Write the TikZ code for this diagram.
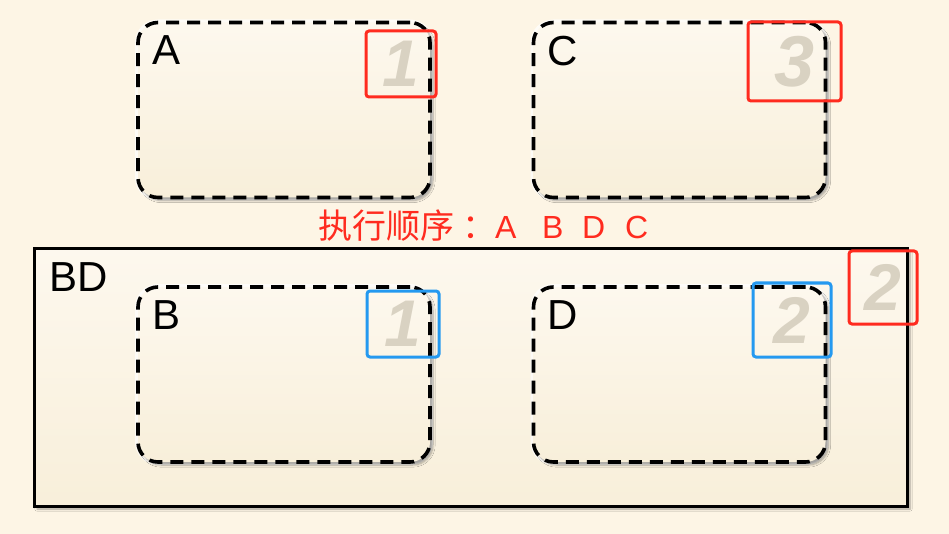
\documentclass[tikz,border=0pt]{standalone}
\usepackage{fontspec}
\setmainfont{Liberation Sans}
\newfontfamily\cjk{Noto Sans CJK SC}
\usetikzlibrary{shadows.blur}
\definecolor{bgcream}{HTML}{FDF5E5}
\definecolor{boxtop}{HTML}{FDF8EE}
\definecolor{boxbottom}{HTML}{F8EFDA}
\definecolor{numgray}{HTML}{D9D2C2}
\definecolor{markred}{HTML}{FF2B1F}
\definecolor{markblue}{HTML}{2499F0}

\tikzstyle{stage}=[draw,line width=3.6pt,dash pattern=on 13pt off 8pt,rounded corners=20pt,
  top color=boxtop,bottom color=boxbottom,
  preaction={draw=white,opacity=0.7,line width=6pt,solid,rounded corners=20pt},
  blur shadow={shadow xshift=3pt,shadow yshift=-3pt,shadow blur steps=6,shadow opacity=35}]
\tikzstyle{group}=[draw,line width=3pt,top color=boxtop,bottom color=boxbottom,
  blur shadow={shadow xshift=3pt,shadow yshift=-3pt,shadow blur steps=6,shadow opacity=35}]
\tikzstyle{order}=[draw,line width=3pt,rounded corners=3pt,inner sep=0pt,text=numgray,
  font=\fontsize{66}{66}\selectfont\bfseries\itshape]
\tikzstyle{title}=[anchor=north west,inner sep=0pt,font=\fontsize{42}{42}\selectfont]
\newcommand{\pxscale}{1pt}
\newcommand{\stepletter}[2]{\makebox[#1][l]{#2}}

\begin{document}
\begin{tikzpicture}[x=\pxscale, y=-\pxscale]
    \fill[bgcream] (0,0) rectangle (949,534);
    \useasboundingbox (0,0) rectangle (949,534);
    % First we draw the outer group
    \node[group, minimum width=873pt, minimum height=257pt] (BD) at (470.5,377.5) {};
    \node[title] at ([shift={(17,15)}]BD.north west) {BD};
    % Then the four stages with their names
    \foreach \pos/\name in {{(284,110)/A}, {(679.5,110)/C}, {(284,374.5)/B}, {(679.5,374.5)/D}}
        \node[stage, minimum width=292pt, minimum height=175pt] (\name) at \pos {};
    \foreach \name in {A,C,B,D}
        \node[title] at ([shift={(16,15)}]\name.north west) {\name};
    % Marks with the execution order
    \node[order, draw=markred, minimum width=70pt, minimum height=66pt] (oA) at (401,64) {1};
    \node[order, draw=markred, minimum width=93pt, minimum height=79pt,
          font=\fontsize{72}{72}\selectfont\bfseries\itshape] (oC) at (794.5,61.5) {3};
    \node[order, draw=markred, minimum width=68pt, minimum height=73pt] (oBD) at (883,287.5) {2};
    \node[order, draw=markblue, minimum width=72pt, minimum height=66pt] (oB) at (403,324) {1};
    \node[order, draw=markblue, minimum width=78pt, minimum height=74pt] (oD) at (792,320) {2};
    % Order caption
    \node[text=markred, font=\fontsize{32}{32}\selectfont, inner sep=0pt, anchor=base west] (caption) at (318,239)
        {{\cjk\fontsize{34}{34}\selectfont 执行顺序\hspace{8pt}\stepletter{31pt}{：}}\hspace{2pt}%
         \stepletter{47pt}{A}\stepletter{40pt}{B}\stepletter{43pt}{D}C};
\end{tikzpicture}
\end{document}
